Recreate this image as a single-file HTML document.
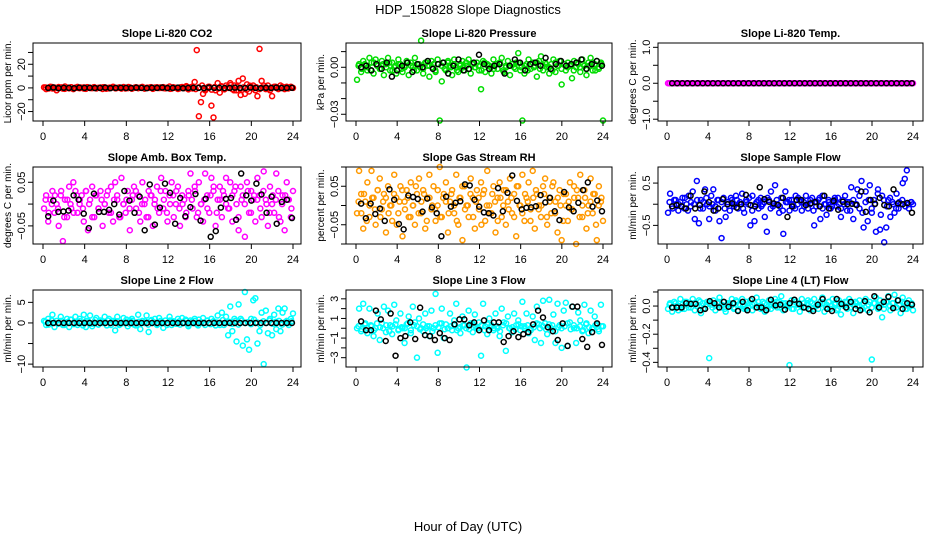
<!DOCTYPE html>
<html><head><meta charset="utf-8"><style>
html,body{margin:0;padding:0;background:#fff;}
svg{display:block;font-family:"Liberation Sans",Arial,sans-serif;}
</style></head><body>
<svg id="chart" width="936" height="540" viewBox="0 0 936 540" xmlns="http://www.w3.org/2000/svg">
<text x="468" y="14" text-anchor="middle" font-size="13">HDP_150828  Slope Diagnostics</text>
<text x="468" y="531" text-anchor="middle" font-size="13">Hour of Day (UTC)</text>
</svg>
<script>
// ---------- data ----------
const xTicks = [0,4,8,12,16,20,24];
const co2Red = [0.5,-1,0,1,-0.5,0.3,-2,0.8,0,-0.6,1.2,0,-0.4,0.6,-1,0.2,0.9,-0.3,0,0.5,-0.8,0.4,0,-0.2,0.7,-0.5,0.1,0.3,-0.9,0.6,0,-0.4,0.2,1,-0.3,0,0.5,-0.6,0.8,0.1,-0.2,0.4,-0.7,0,0.6,-0.3,0.2,0.9,-0.5,0.1,0,0.4,-0.8,0.3,0.6,-0.1,0,0.7,-0.4,0.2,1.2,-0.6,0.3,0,-0.9,0.5,0.8,-0.2,1.5,-1.2,0.6,-0.5,5,32,-24,-12,-5,-1,0,1,-15,-25,-2,4,-4,1,-1,2,0,4,-1,2,-2,6,-6,8,-5,3,-3,1,2,-2,-7,33,6,2,-1,2,-2,-7,1,0,-1,2,1,-1,1,0,1,0];
const co2Band = [0.3,-0.5,0.8,-0.2,0,0.5,-0.8,0.2,0.6,-0.4,0,0.3,-0.6,0.7,-0.1,0.4,-0.3,0,0.6,-0.7,0.2,0.5,-0.4,0.1,0,-0.5,0.8,-0.2,0.3,0,0.4,-0.6,0.2,0.7,-0.3,0,0.5,-0.2,0.1,-0.8,0.6,0,-0.4,0.3,0.9,-0.5,1.2,-1,0.5,2,-2,1,-1.5,0.8,-0.6,1.5,-1.2,0.7,2.5,-2,1,-0.8,0.5,-1.5,1.8,-0.4,0.6,-1,0.3,0.5,-0.6,0.2,1,-0.3,0.4,0,-0.5,0.3];
const co2Black = [0,0.3,-0.2,0.1,0,-0.3,0.2,0,0.1,-0.1,0,0.2,-0.2,0,0.1,0,-0.1,0.2,0,-0.2,0.1,0,0.3,-0.1,0,0.2,-0.3,0,0.1,0,-0.2,0.3,0,0.1,-0.1,0,0.2,0,-0.1,0.3,0,-0.2,0.1,0,0.2,-0.1,0,0.1];
const presGreen = [-0.008,0.002,-0.003,0.004,0.001,-0.002,0.006,0.003,-0.004,0.005,0.001,-0.001,0.004,-0.005,0.002,0.006,-0.002,0.003,0,-0.004,0.005,0.002,-0.003,0.001,0.004,-0.005,0.003,0,0.006,-0.002,0.002,0.017,-0.004,0.003,0.001,-0.006,0.004,0.002,-0.003,0.005,-0.034,-0.009,0.003,-0.002,0.004,0.001,-0.005,0.005,0,-0.003,0.002,0.004,-0.002,0.001,0.005,-0.004,0.002,0,0.003,-0.002,-0.014,0.004,-0.003,0.002,0.001,-0.004,0.005,0.002,-0.001,0.003,0.006,-0.003,0.001,0.004,-0.005,0.002,0,0.003,0.009,-0.002,-0.034,-0.004,0.002,0.005,-0.001,0.003,0.001,-0.006,0.004,0.007,-0.002,0.003,0,-0.004,0.002,0.005,-0.003,0.001,0.004,-0.011,0.002,-0.002,0.003,0.001,-0.007,0.004,0,0.002,-0.003,0.005,0.001,-0.005,0.003,0.006,-0.002,0.002,0.004,-0.001,0.003,-0.034];
const presBand = [0.001,-0.001,0.002,0,-0.002,0.003,0.001,-0.001,0.002,0,0.003,-0.002,0.001,0.002,-0.001,0,0.003,0.001,-0.002,0.002,0,-0.001,0.003,0.001,0,-0.002,0.002,0.001,-0.001,0.003,0,0.002,-0.002,0.001,0,0.003,-0.001,0.002,0,0.001,-0.002,0.003,0.001,0,-0.001,0.002,0.003,-0.002,0,0.001,0.002,-0.001,0.003,0,0.001,-0.002,0.002,0,0.003,-0.001,0.001,0.002,0,-0.002,0.003,0.001,-0.001,0.002,0,0.001,-0.002,0.003,0,0.002,-0.001,0.001,0.003,-0.002,0,0.002];
const presBlack = [0,0.001,-0.002,0.002,-0.001,0.003,-0.006,-0.002,0.001,0.003,-0.003,0.002,0,0.004,-0.001,0.002,0.003,-0.004,0.001,0.005,-0.002,-0.001,0.003,0.008,0.002,-0.001,0.001,0.002,-0.004,0.001,0.005,0.003,-0.002,0.002,0.003,0.001,0.006,-0.001,0.002,0.004,0.001,0.002,0.003,0.005,-0.001,0.002,0.004,0.001];
const tempMag = new Array(120).fill(0);
const tempBand = new Array(80).fill(0);
const tempBlack = new Array(48).fill(0);
const boxMag = [-0.01,0.02,-0.04,0.01,0.03,-0.02,0.0,-0.05,0.02,-0.085,0.01,-0.03,0.04,-0.01,0.05,0.03,-0.02,0.0,0.02,-0.04,0.03,-0.06,0.01,0.04,-0.03,0.02,-0.01,0.03,-0.05,0.0,0.02,-0.02,0.04,-0.04,0.05,0.01,-0.03,0.06,0.0,-0.02,0.03,-0.06,0.01,0.04,-0.01,0.02,-0.04,0.05,0.0,-0.03,0.03,0.02,-0.05,0.01,0.04,-0.02,0.06,-0.01,0.03,-0.04,0.02,0.05,-0.03,0.0,0.04,-0.05,0.02,0.01,-0.02,0.03,0.07,-0.01,0.04,-0.03,0.05,0.0,-0.04,0.07,0.02,-0.02,0.06,0.03,-0.05,0.01,0.04,-0.03,0.02,0.06,-0.01,0.05,-0.04,0.03,0.0,-0.06,0.04,0.02,-0.075,0.05,-0.02,0.03,0.01,-0.04,0.06,0.02,-0.03,0.075,0.01,-0.05,0.04,0.0,-0.02,0.07,0.03,-0.04,0.02,-0.06,0.05,0.01,-0.03,0.03];
const boxBand = [0.01,-0.02,0.0,0.02,-0.01,0.03,-0.03,0.01,0.0,-0.02,0.02,0.01,-0.01,0.03,0.0,-0.03,0.02,-0.01,0.01,0.0,0.03,-0.02,0.01,0.02,-0.03,0.0,0.01,-0.01,0.02,0.03,-0.02,0.0,0.01,-0.03,0.02,0.0,-0.01,0.03,0.01,-0.02,0.0,0.02,0.03,-0.01,0.0,-0.03,0.02,0.01,0.03,-0.02,0.0,0.01,-0.01,0.02,0.04,-0.02,0.01,0.03,0.0,-0.01,0.02,0.04,-0.03,0.01,0.0,0.03,-0.02,0.02,0.01,-0.01,0.03,0.0,-0.02,0.02,0.01,-0.03,0.0,0.02,0.01,-0.01];
const boxBlack = [-0.028,0.008,-0.018,-0.017,-0.015,0.02,0.01,-0.022,-0.055,0.024,-0.018,-0.018,-0.013,0.0,-0.024,0.03,0.008,-0.02,0.017,-0.06,0.045,-0.047,-0.008,0.047,0.026,-0.045,0.014,-0.028,-0.007,0.023,-0.038,0.012,-0.075,-0.062,-0.008,0.012,0.014,-0.036,0.07,0.02,0.008,0.047,0.022,-0.02,0.017,-0.045,0.005,0.01,-0.032];
const rhOrange = [-0.02,0.09,0.03,-0.06,0.01,0.06,-0.03,0.09,0.02,-0.05,0.04,0.07,-0.01,0.03,-0.07,0.05,0.0,-0.04,0.08,0.02,-0.02,0.05,-0.08,0.01,0.04,-0.03,0.06,0.0,-0.05,0.03,0.07,-0.02,0.04,-0.06,0.02,0.08,-0.01,0.05,-0.04,0.0,0.1,-0.03,0.03,0.06,-0.07,0.01,0.04,-0.02,0.08,-0.05,0.02,-0.09,0.05,0.0,-0.03,0.07,0.02,-0.06,0.04,-0.01,0.06,0.03,-0.04,0.09,0.0,-0.02,0.05,-0.07,0.02,0.06,-0.03,0.04,-0.05,0.01,0.07,-0.02,0.03,-0.08,0.05,0.0,0.08,-0.04,0.02,0.06,-0.01,0.09,-0.06,0.03,0.0,-0.03,0.05,0.07,-0.05,0.02,-0.02,0.06,0.01,-0.07,0.04,-0.09,0.03,0.0,-0.04,0.06,-0.01,0.05,-0.1,0.02,0.08,-0.03,0.04,-0.06,0.0,0.07,-0.02,0.03,-0.09,0.05,0.01,-0.04];
const rhBand = [0.01,-0.02,0.03,-0.04,0.0,0.02,-0.01,0.04,-0.03,0.01,0.02,-0.02,0.0,0.03,-0.05,0.01,0.04,-0.01,0.02,-0.03,0.0,0.05,-0.02,0.01,0.03,-0.04,0.02,0.0,-0.01,0.04,-0.03,0.02,0.01,-0.02,0.03,0.0,-0.04,0.02,0.05,-0.01,0.0,0.03,-0.03,0.01,0.02,-0.05,0.04,0.0,-0.02,0.03,0.01,-0.04,0.02,0.0,0.04,-0.01,0.02,-0.03,0.05,0.0,-0.02,0.03,0.01,-0.04,0.02,0.04,-0.01,0.0,0.03,-0.03,0.01,0.05,-0.02,0.02,0.0,-0.04,0.03,0.01,-0.01,0.02,0.04,-0.03,0.0,0.02,-0.02,0.01,0.03,-0.05,0.0,0.02];
const rhBlack = [0.005,-0.033,0.005,-0.022,-0.008,-0.04,0.042,0.015,-0.048,-0.062,0.026,0.022,0.017,-0.016,0.018,-0.005,-0.02,-0.08,0.023,-0.003,0.007,0.011,0.055,0.052,0.015,-0.003,-0.018,-0.02,-0.026,0.045,-0.015,0.033,0.078,0.012,-0.01,-0.006,-0.005,-0.002,0.027,0.008,0.02,-0.015,-0.038,0.035,-0.005,-0.015,0.007,0.04,0.06,-0.003,0.013,-0.015];
const flowBlue = [-0.2,0.25,-0.05,0.1,0.0,-0.15,0.05,0.15,-0.1,0.0,0.2,-0.05,0.3,-0.35,0.55,-0.45,0.1,-0.1,0.35,0.0,-0.35,0.2,0.35,-0.05,0.1,-0.4,-0.8,0.15,-0.3,0.05,-0.15,0.1,0.0,0.2,-0.1,0.05,0.25,-0.2,0.1,0.0,-0.5,0.2,-0.4,0.05,-0.1,0.15,0.0,-0.3,-0.65,0.1,0.3,-0.05,0.45,0.0,-0.2,0.15,-0.7,0.3,0.05,-0.15,0.1,-0.05,0.2,0.0,0.1,-0.15,0.05,0.2,-0.1,0.0,0.15,-0.5,-0.05,0.1,-0.35,0.2,0.0,-0.25,0.1,-0.1,0.05,0.15,-0.05,0.0,-0.3,0.1,0.2,-0.15,0.05,0.4,-0.35,0.0,0.35,-0.1,0.55,-0.55,0.3,-0.4,0.45,-0.2,0.1,-0.65,0.35,-0.6,0.2,-0.9,-0.55,0.1,-0.3,0.05,-0.2,0.25,-0.1,0.0,0.5,0.6,0.8,-0.1,0.05,0.0];
const flowBand = [0.05,-0.1,0.1,0.0,-0.05,0.15,-0.15,0.05,0.0,0.1,-0.1,0.05,0.15,-0.05,0.0,-0.15,0.1,0.05,-0.1,0.0,0.15,-0.05,0.1,0.0,-0.1,0.05,0.15,-0.15,0.0,0.1,-0.05,0.05,0.15,-0.1,0.0,0.1,-0.05,-0.15,0.05,0.1,0.0,-0.1,0.15,0.05,-0.05,0.0,0.1,-0.15,0.05,0.15,-0.1,0.0,0.05,-0.05,0.1,0.15,-0.1,0.0,0.05,-0.15,0.1,0.0,0.2,-0.2,0.05,0.1,-0.1,0.0,0.25,-0.25,0.1,-0.05,0.15,0.0,-0.1,0.05,0.1,-0.05,0.0,0.05];
const flowBlack = [-0.05,-0.02,-0.05,-0.1,0.2,-0.1,-0.02,0.3,0.05,-0.15,-0.1,0.12,0.0,0.02,-0.08,0.0,0.22,-0.02,-0.05,0.4,0.12,0.06,0.02,-0.02,0.15,-0.3,-0.05,0.1,0.1,-0.02,0.02,0.05,-0.05,0.2,-0.1,0.08,-0.13,0.06,0.0,0.01,-0.02,0.3,-0.18,0.1,0.01,0.15,-0.02,-0.05,0.35,0.02,0.0,0.03,-0.2];
const l2Cyan = [0.5,-0.5,1,0,2,-1,0.5,0,1.5,-0.5,0,1,-1,0.8,0,1.5,-0.5,1,0,2,-1,0.5,1.8,-0.8,0,1.2,-0.4,0.6,0,1.5,-0.6,1,0,0.5,-1.8,1.5,-0.5,0,1.2,0,-0.8,0.6,1,-0.4,0,2,-1.5,0.5,0,1.8,-2.2,0.5,0,1,-0.5,1.2,0,-1.2,0.6,0,1.5,-0.5,0.4,0,1,-0.4,1.2,0,0.5,-0.8,0.6,0,1,-0.3,0.8,0,1.2,-0.5,0.5,0,1,0.4,-0.6,1.8,0,2.5,-0.5,1.5,-3,4,-2,1,-4.5,4.5,1,-5.5,7.5,-4,-6.5,1,5.5,6,-5,-2,2.5,-10,3,-2.5,1,-3,2,-1.5,3.5,-2,2.5,3.5,0.5,-0.5,1,2.3];
const l2Band = [0.3,-0.4,0.6,0,-0.2,0.5,-0.5,0.2,0.8,-0.3,0,0.4,-0.6,0.5,0.1,-0.2,0.7,-0.4,0.3,0,0.6,-0.5,0.2,0.4,-0.3,0,0.8,-0.2,0.5,-0.6,0.3,0,0.4,-0.4,0.7,0.1,-0.3,0.5,0,-0.5,0.6,0.2,-0.2,0.4,0,0.8,-0.4,0.3,0.5,-0.6,0.2,0,0.6,-0.3,0.4,0.1,-0.5,0.7,0,0.3,-0.2,0.5,-0.4,0.6,0,0.2,-0.3,0.8,0.1,-0.5,0.4,0,0.6,-0.2,0.3,0.5,-0.4,0.2,0,0.4];
const l2Black = new Array(48).fill(0);
const l3Cyan = [0,2,-0.3,2.5,0.5,-0.5,2,0.2,-0.8,0,1.5,-1.2,0.5,2.2,-0.4,1.8,0.3,-0.6,2.4,0.8,-0.2,1.5,0,-1.5,0.4,1.2,-0.5,2.2,0.6,-3,1,0,-0.3,1.5,0.2,-0.8,1.8,0,3.5,-2.5,0.5,2,-1,0.4,0,1.5,-0.2,0.8,2.5,0,-0.5,1.2,0.3,-4,1.8,0.5,-0.4,1.4,0,0.6,-2.8,2.5,0.2,-0.6,1,0.3,-0.2,1.5,0,-0.8,2,0.6,-2.3,1.2,0,-0.4,1.5,0.3,0.8,-0.2,2.7,0.2,1.5,-0.5,0,1.2,-1.2,2.2,0.4,-1.5,2.8,0.5,-0.6,2.9,0,1.4,-1.5,2.5,0.3,-2,1.8,2.6,-1.8,0.6,2.2,0,-1.5,1.6,0.8,-0.3,2.4,0.5,-0.5,1.8,0,1.2,0.4,-0.3,2.4,0.2];
const l3Band = [0.2,-0.1,0.4,0.0,0.3,-0.2,0.5,0.1,0.0,0.3,-0.3,0.2,0.4,-0.1,0.1,0.0,0.5,-0.2,0.3,0.2,-0.1,0.4,0.0,0.2,-0.3,0.3,0.1,0.5,-0.1,0.0,0.2,0.4,-0.2,0.1,0.3,0.0,-0.1,0.5,0.2,0.0,0.3,-0.2,0.4,0.1,0.0,0.2,-0.3,0.3,0.5,0.0,0.1,-0.1,0.4,0.2,0.0,0.3,-0.2,0.1,0.5,0.0,0.2,-0.1,0.4,0.3,-0.3,0.1,0.0,0.2,0.5,-0.1,0.3,0.0,0.2,-0.2,0.4,0.1,0.0,0.3,-0.1,0.2];
const l3Black = [0.7,-0.2,-0.2,1.8,0.9,-1.3,1.5,-2.8,-1,-0.8,0.6,-1.1,2.1,-0.7,-0.8,-1.2,-0.5,-1,-1.2,0.4,0.9,0.9,0.3,0.6,-0.2,0.8,-0.2,0.6,0.6,-1.4,-0.8,-0.3,-0.9,-0.6,-0.4,0.4,1.8,1.1,0.1,-0.3,-1.2,0.5,-1.8,2.2,2.2,-1.1,-1.9,-0.4,0.5,-1.7];
const l4Cyan = [-0.02,0.02,-0.04,0.03,0,-0.03,0.05,0.01,-0.02,0.03,-0.01,0.02,0.05,-0.03,0,0.04,-0.05,0.02,-0.02,0.03,-0.37,0.01,0.04,-0.03,0.02,0.06,-0.01,0.03,-0.04,0.01,0.02,0.05,-0.02,0.04,-0.03,0.01,0.05,-0.02,0.03,-0.01,0.04,-0.03,0.02,0.06,0,-0.02,0.03,-0.04,0.01,0.04,-0.02,0.02,0.05,-0.01,0.03,0.07,-0.03,0.02,0,-0.42,0.04,-0.02,0.03,0.01,-0.04,0.05,0.02,-0.01,0.04,-0.03,0.02,0.05,0,-0.02,0.03,0.06,-0.04,0.01,0.03,-0.02,0.05,0.02,-0.03,0.04,-0.06,0.01,0.03,-0.02,0.05,0.02,-0.05,0.03,0,0.04,-0.02,0.02,0.05,-0.03,0.03,-0.38,0.02,0.06,-0.02,0.04,-0.08,0.01,0.03,0.07,-0.03,0.02,0.08,-0.01,0.04,-0.05,0.06,0.02,-0.02,0.04,0.01,-0.03];
const l4Band = [0.01,-0.01,0.02,0,-0.02,0.03,0.01,-0.01,0.02,0,0.03,-0.02,0.01,0.02,-0.01,0,0.03,0.01,-0.02,0.02,0,-0.01,0.03,0.01,0,-0.02,0.02,0.01,-0.01,0.03,0,0.02,-0.02,0.01,0,0.03,-0.01,0.02,0,0.01,-0.02,0.03,0.01,0,-0.01,0.02,0.03,-0.02,0,0.01,0.02,-0.01,0.03,0,0.01,-0.02,0.02,0,0.03,-0.01,0.01,0.02,0,-0.02,0.03,0.01,-0.01,0.02,0,0.01,-0.02,0.03,0,0.02,-0.01,0.01,0.03,-0.02,0,0.02];
const l4Black = [-0.01,-0.01,-0.01,0.02,0.015,0.015,-0.03,-0.02,0.035,0.02,-0.01,0.03,-0.005,0.02,-0.035,0.03,-0.03,0.05,-0.01,-0.01,-0.03,0.045,0.005,0.01,-0.025,0.02,0.045,0.015,-0.01,-0.02,-0.035,0.01,0.05,-0.02,-0.035,0.05,0.015,-0.01,0.03,-0.02,-0.03,0.035,-0.045,0.07,-0.01,0.03,0.065,-0.015,0.04,-0.02,0.02,0.01];

// ---------- panels ----------
const panels = [
 {name:'li820-co2',title:'Slope Li-820 CO2',ylab:'Licor ppm per min.',L:33,R:301,T:43,B:121,x0:43,x24:293,ymin:-28,ymax:38,ticks:[-20,-10,0,10,20,30],labels:[[-20,'\u221220'],[0,'0'],[20,'20']],col:'#ff0000',data:co2Red,band:co2Band,black:co2Black},
 {name:'li820-pressure',title:'Slope Li-820 Pressure',ylab:'kPa per min.',L:346,R:612,T:43,B:121,x0:356,x24:603,ymin:-0.0343,ymax:0.0155,ticks:[-0.03,-0.02,-0.01,0,0.01],labels:[[-0.03,'\u22120.03'],[0,'0.00']],col:'#00dd00',data:presGreen,band:presBand,black:presBlack},
 {name:'li820-temp',title:'Slope Li-820 Temp.',ylab:'degrees C per min.',L:658,R:923,T:43,B:121,x0:667,x24:913,ymin:-1.05,ymax:1.12,ticks:[-1,-0.5,0,0.5,1],labels:[[-1,'\u22121.0'],[0,'0.0'],[1,'1.0']],col:'#ff00ff',data:tempMag,band:tempBand,black:tempBlack},
 {name:'amb-box-temp',title:'Slope Amb. Box Temp.',ylab:'degrees C per min.',L:33,R:301,T:167,B:244,x0:43,x24:293,ymin:-0.0915,ymax:0.085,ticks:[-0.05,0,0.05],labels:[[-0.05,'\u22120.05'],[0.05,'0.05']],col:'#ff00ff',data:boxMag,band:boxBand,black:boxBlack},
 {name:'gas-stream-rh',title:'Slope Gas Stream RH',ylab:'percent per min.',L:346,R:612,T:167,B:244,x0:356,x24:603,ymin:-0.1,ymax:0.1,ticks:[-0.1,-0.05,0,0.05,0.1],labels:[[-0.05,'\u22120.05'],[0.05,'0.05']],col:'#ff9900',data:rhOrange,band:rhBand,black:rhBlack},
 {name:'sample-flow',title:'Slope Sample Flow',ylab:'ml/min per min.',L:658,R:923,T:167,B:244,x0:667,x24:913,ymin:-0.94,ymax:0.88,ticks:[-0.5,0,0.5],labels:[[-0.5,'\u22120.5'],[0.5,'0.5']],col:'#0000ff',data:flowBlue,band:flowBand,black:flowBlack},
 {name:'line2-flow',title:'Slope Line 2 Flow',ylab:'ml/min per min.',L:33,R:301,T:290,B:367,x0:43,x24:293,ymin:-10.7,ymax:8.0,ticks:[-10,-5,0,5],labels:[[-10,'\u221210'],[0,'0'],[5,'5']],col:'#00ffff',data:l2Cyan,band:l2Band,black:l2Black},
 {name:'line3-flow',title:'Slope Line 3 Flow',ylab:'ml/min per min.',L:346,R:612,T:290,B:367,x0:356,x24:603,ymin:-3.95,ymax:3.9,ticks:[-3,-2,-1,0,1,2,3],labels:[[-3,'\u22123'],[-1,'\u22121'],[1,'1'],[3,'3']],col:'#00ffff',data:l3Cyan,band:l3Band,black:l3Black},
 {name:'line4-flow',title:'Slope Line 4 (LT) Flow',ylab:'ml/min per min.',L:658,R:923,T:290,B:367,x0:667,x24:913,ymin:-0.433,ymax:0.114,ticks:[-0.4,-0.3,-0.2,-0.1,0,0.1],labels:[[-0.4,'\u22120.4'],[-0.2,'\u22120.2'],[0,'0.0']],col:'#00ffff',data:l4Cyan,band:l4Band,black:l4Black}
];

const NS='http://www.w3.org/2000/svg';
const svg=document.getElementById('chart');
function mk(tag,attrs,parent){const e=document.createElementNS(NS,tag);for(const k in attrs)e.setAttribute(k,attrs[k]);(parent||svg).appendChild(e);return e;}

panels.forEach(p=>{
  const g=mk('g',{});
  
  
  const xs=h=>p.x0+(p.x24-p.x0)*h/24;
  const ys=v=>p.B-(v-p.ymin)/(p.ymax-p.ymin)*(p.B-p.T);
  const t=mk('text',{x:(p.L+p.R)/2,y:p.T-6,'text-anchor':'middle','font-size':11,'font-weight':'bold'},g);
  t.textContent=p.title;
  
  
  const ptsG=mk('g',{fill:'none','stroke-width':1.5},g);
  
  
  const drawSeries=(arr,h0,h1,color,nm)=>{
    const n=arr.length;
    arr.forEach((v,i)=>{
      const h=h0+(h1-h0)*i/(n-1);
      const c=mk('circle',{cx:xs(h),cy:ys(v),r:2.5,stroke:color},ptsG);
      
      
    });
  };
  drawSeries(p.band,0.25,23.85,p.col,'band-point');
  drawSeries(p.data,0.1,24,p.col,'point');
  drawSeries(p.black,0.5,23.9,'#000','black-point');
  const box=mk('rect',{x:p.L,y:p.T,width:p.R-p.L,height:p.B-p.T,fill:'none',stroke:'#000','stroke-width':1},g);
  
  
  xTicks.forEach(h=>{
    mk('line',{x1:xs(h),x2:xs(h),y1:p.B,y2:p.B+5,stroke:'#000'},g);
    const l=mk('text',{x:xs(h),y:p.B+19,'text-anchor':'middle','font-size':11},g);
    l.textContent=h;
    
    
  });
  p.ticks.forEach(v=>{ mk('line',{x1:p.L-5,x2:p.L,y1:ys(v),y2:ys(v),stroke:'#000'},g); });
  p.labels.forEach(([v,s])=>{
    const lx=p.L-8;
    const l=mk('text',{x:lx,y:ys(v),'text-anchor':'middle','font-size':11,transform:`rotate(-90 ${lx} ${ys(v)})`},g);
    l.textContent=s;
    
    
  });
  const yl=mk('text',{x:p.L-22,y:(p.T+p.B)/2,'text-anchor':'middle','font-size':10,transform:`rotate(-90 ${p.L-22} ${(p.T+p.B)/2})`},g);
  yl.textContent=p.ylab;
  
  
});
</script>
</body></html>
